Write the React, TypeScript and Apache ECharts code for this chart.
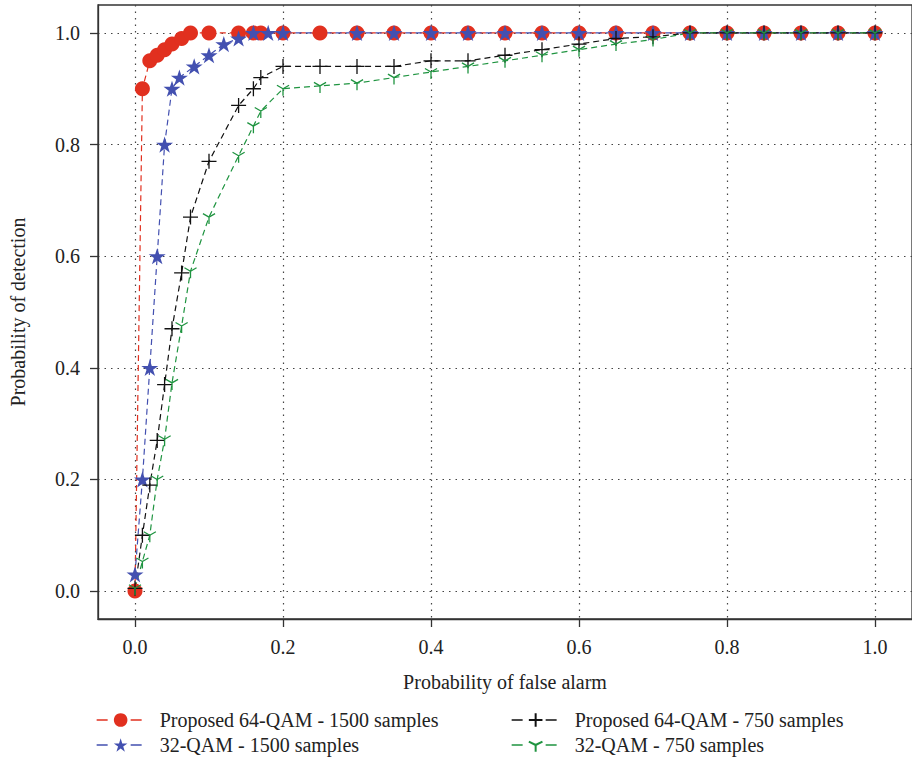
import React, { useEffect, useRef } from "react";
import * as echarts from "echarts";

const FONT = "'Liberation Serif', 'DejaVu Serif', serif";

const seriesNames = [
  "Proposed 64-QAM - 1500 samples",
  "32-QAM - 1500 samples",
  "Proposed 64-QAM - 750 samples",
  "32-QAM - 750 samples",
];

const tickValues = [0, 0.2, 0.4, 0.6, 0.8, 1.0];

const pfaA = [0, 0.01, 0.02, 0.03, 0.04, 0.05, 0.063, 0.075, 0.1, 0.14, 0.16, 0.17, 0.2, 0.25, 0.3, 0.35, 0.4, 0.45, 0.5, 0.55, 0.6, 0.65, 0.7, 0.75, 0.8, 0.85, 0.9, 0.95, 1.0];
const pfaB = [0, 0.01, 0.02, 0.03, 0.04, 0.05, 0.06, 0.08, 0.1, 0.12, 0.14, 0.16, 0.18, 0.2, 0.3, 0.35, 0.4, 0.45, 0.5, 0.55, 0.6, 0.65, 0.7, 0.75, 0.8, 0.85, 0.9, 0.95, 1.0];

const pdProposed1500 = [0, 0.9, 0.95, 0.96, 0.97, 0.98, 0.99, 1, 1, 1, 1, 1, 1, 1, 1, 1, 1, 1, 1, 1, 1, 1, 1, 1, 1, 1, 1, 1, 1];
const pd32qam1500 = [0.03, 0.2, 0.4, 0.6, 0.8, 0.9, 0.92, 0.94, 0.96, 0.98, 0.99, 1, 1, 1, 1, 1, 1, 1, 1, 1, 1, 1, 1, 1, 1, 1, 1, 1, 1];
const pdProposed750 = [0.005, 0.1, 0.19, 0.27, 0.37, 0.47, 0.57, 0.67, 0.77, 0.87, 0.9, 0.92, 0.94, 0.94, 0.94, 0.94, 0.95, 0.95, 0.96, 0.97, 0.98, 0.99, 0.993, 1, 1, 1, 1, 1, 1];
const pd32qam750 = [0.005, 0.053, 0.1, 0.2, 0.272, 0.373, 0.475, 0.573, 0.67, 0.78, 0.833, 0.86, 0.9, 0.905, 0.91, 0.92, 0.93, 0.94, 0.95, 0.96, 0.97, 0.98, 0.988, 1, 1, 1, 1, 1, 1];

const RED = "#e1301f";
const BLUE = "#4350b0";
const BLACK = "#111111";
const GREEN = "#1f9440";

const STAR =
  "path://M0,-1L0.2245,-0.309L0.951,-0.309L0.363,0.118L0.588,0.809L0,0.382L-0.588,0.809L-0.363,0.118L-0.951,-0.309L-0.2245,-0.309Z";
const PLUS = "path://M0,-1L0,1M-1,0L1,0";
const TRI = "path://M0,-1M0,0L0,1M0,0L-0.866,-0.5M0,0L0.866,-0.5";

function zip(xs: number[], ys: number[]) {
  return xs.map((x, i) => [x, ys[i]]);
}

export default function App() {
  const ref = useRef<HTMLDivElement>(null);
  useEffect(() => {
    if (!ref.current) return;
    const chart = echarts.init(ref.current, null, { renderer: "svg" });
    const dash = [6, 4];
    const axisText = { fontFamily: FONT, fontSize: 20, color: "#222" };
    const legendBase = {
      orient: "vertical",
      top: 710,
      padding: 0,
      itemWidth: 48,
      itemHeight: 17,
      itemGap: 5,
      lineStyle: { type: [11, 23], width: 1.3 },
      textStyle: { fontFamily: FONT, fontSize: 20, color: "#222", padding: [0, 0, 0, 10], lineHeight: 19 },
    };
    chart.setOption({
      animation: false,
      backgroundColor: "#fff",
      grid: {
        left: 96,
        top: 5,
        right: -8,
        bottom: 140,
        show: true,
        borderColor: "#333",
        borderWidth: 1.3,
        containLabel: false,
      },
      xAxis: {
        type: "value",
        min: -0.05,
        max: 1.05,
        name: "Probability of false alarm",
        nameLocation: "middle",
        nameGap: 53,
        nameTextStyle: axisText,
        axisLine: { show: true, onZero: false, lineStyle: { color: "#333", width: 1.3 } },
        axisTick: { show: true, length: 8, customValues: tickValues, lineStyle: { color: "#333", width: 1.3 } },
        axisLabel: { ...axisText, margin: 18, customValues: tickValues, formatter: (v: number) => v.toFixed(1) },
        splitLine: { show: true, lineStyle: { color: "#444", type: [1.5, 5], width: 1.2 } },
      },
      yAxis: {
        type: "value",
        min: -0.05,
        max: 1.05,
        name: "Probability of detection",
        nameLocation: "middle",
        nameGap: 70,
        nameTextStyle: axisText,
        axisLine: { show: true, onZero: false, lineStyle: { color: "#333", width: 1.3 } },
        axisTick: { show: true, length: 8, customValues: tickValues, lineStyle: { color: "#333", width: 1.3 } },
        axisLabel: { ...axisText, margin: 18, customValues: tickValues, formatter: (v: number) => v.toFixed(1) },
        splitLine: { show: true, lineStyle: { color: "#444", type: [1.5, 5], width: 1.2 } },
      },
      legend: [
        { ...legendBase, left: 96, data: [seriesNames[0], seriesNames[1]] },
        { ...legendBase, left: 511, data: [seriesNames[2], seriesNames[3]] },
      ],
      series: [
        {
          name: seriesNames[0],
          type: "line",
          data: zip(pfaA, pdProposed1500),
          symbol: "circle",
          symbolSize: 15,
          itemStyle: { color: RED },
          lineStyle: { color: RED, width: 1.2, type: dash },
        },
        {
          name: seriesNames[1],
          type: "line",
          data: zip(pfaB, pd32qam1500),
          symbol: STAR,
          symbolSize: 17,
          symbolKeepAspect: true,
          itemStyle: { color: BLUE },
          lineStyle: { color: BLUE, width: 1.2, type: dash },
        },
        {
          name: seriesNames[2],
          type: "line",
          data: zip(pfaA, pdProposed750),
          symbol: PLUS,
          symbolSize: 15,
          symbolKeepAspect: true,
          itemStyle: { color: "none", borderColor: BLACK, borderWidth: 1.3 },
          lineStyle: { color: BLACK, width: 1.2, type: dash },
        },
        {
          name: seriesNames[3],
          type: "line",
          data: zip(pfaA, pd32qam750),
          symbol: TRI,
          symbolSize: 14,
          symbolKeepAspect: true,
          itemStyle: { color: "none", borderColor: GREEN, borderWidth: 1.3 },
          lineStyle: { color: GREEN, width: 1.2, type: dash },
        },
      ],
    });
    return () => chart.dispose();
  }, []);
  return (
    <div
      ref={ref}
      style={{ position: "absolute", left: 0, top: 0, width: 912, height: 759, background: "#fff" }}
    />
  );
}
